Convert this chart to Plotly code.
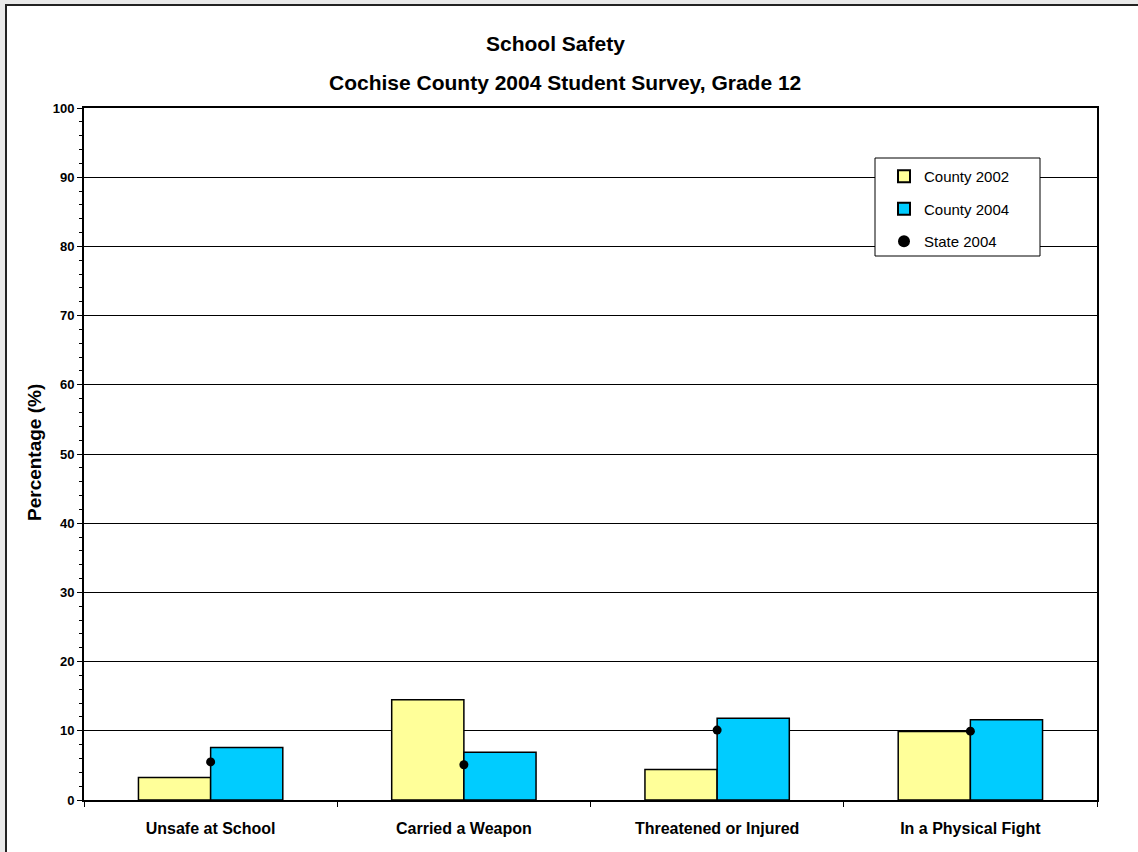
import plotly.graph_objects as go

categories = ["Unsafe at School", "Carried a Weapon", "Threatened or Injured", "In a Physical Fight"]
county_2002 = [3.25, 14.5, 4.4, 9.9]
county_2004 = [7.6, 6.9, 11.8, 11.6]
state_2004 = [5.5, 5.1, 10.1, 9.95]
y_ticks = [0, 10, 20, 30, 40, 50, 60, 70, 80, 90, 100]

W, H = 1138, 852
ML, MR, MT, MB = 84, 41, 108, 52
PW, PH = W - ML - MR, H - MT - MB

def px_x(px):
    return (px - ML) / PW

def px_y(py):
    return (H - MB - py) / PH

FONT = "Arial, Liberation Sans, sans-serif"

fig = go.Figure()
fig.add_trace(go.Bar(
    x=categories, y=county_2002, name="County 2002",
    marker=dict(color="#FFFF99", line=dict(color="black", width=1.5)),
    legendgroup="a",
))
fig.add_trace(go.Bar(
    x=categories, y=county_2004, name="County 2004",
    marker=dict(color="#00CCFF", line=dict(color="black", width=1.5)),
    legendgroup="b",
))
fig.add_trace(go.Scatter(
    x=categories, y=state_2004, name="State 2004", mode="markers",
    marker=dict(color="black", size=9),
    legendgroup="c",
))

fig.update_layout(
    width=W, height=H,
    margin=dict(l=ML, r=MR, t=MT, b=MB, pad=0),
    paper_bgcolor="#E9E9E9",
    plot_bgcolor="white",
    font=dict(family=FONT, color="black"),
    barmode="group", bargap=0.43, bargroupgap=0,
    showlegend=True,
    legend=dict(
        x=px_x(884), y=px_y(160), xanchor="left", yanchor="top",
        bgcolor="rgba(0,0,0,0)", borderwidth=0,
        font=dict(size=15, family=FONT),
        traceorder="grouped", tracegroupgap=10,
        itemsizing="constant",
    ),
    shapes=[
        dict(type="rect", xref="paper", yref="paper", layer="below",
             x0=px_x(6), x1=px_x(1160), y0=px_y(880), y1=px_y(5),
             fillcolor="white", line=dict(color="#222222", width=2)),
        dict(type="rect", xref="paper", yref="paper", layer="above",
             x0=px_x(875), x1=px_x(1040), y0=px_y(256), y1=px_y(158),
             fillcolor="white", line=dict(color="black", width=1)),
    ],
    annotations=[
        dict(text="<b>School Safety</b>", xref="paper", yref="paper",
             x=px_x(555), y=px_y(43), showarrow=False,
             xanchor="center", yanchor="middle", font=dict(size=21)),
        dict(text="<b>Cochise County 2004 Student Survey, Grade 12</b>", xref="paper", yref="paper",
             x=px_x(565), y=px_y(82), showarrow=False,
             xanchor="center", yanchor="middle", font=dict(size=21)),
        dict(text="<b>Percentage (%)</b>", xref="paper", yref="paper",
             x=px_x(34), y=px_y(453), showarrow=False, textangle=-90,
             xanchor="center", yanchor="middle", font=dict(size=19)),
    ],
)

fig.update_yaxes(
    range=[0, 100], tickvals=y_ticks, ticktext=[f"<b>{v}</b>" for v in y_ticks],
    showgrid=True, gridcolor="black", gridwidth=1,
    showline=True, linecolor="black", linewidth=2, mirror=True,
    ticks="outside", ticklen=5, tickwidth=1, tickcolor="black",
    tickfont=dict(size=13),
    minor=dict(dtick=2, ticks="outside", ticklen=3, tickcolor="black", showgrid=False),
    zeroline=False, fixedrange=True,
)
fig.update_xaxes(
    type="category", tickson="boundaries",
    ticktext=[f"<b>{c}</b>" for c in categories], tickvals=categories,
    showline=True, linecolor="black", linewidth=2, mirror=True,
    ticks="outside", ticklen=5, tickcolor="black",
    tickfont=dict(size=16), showgrid=False, ticklabelstandoff=13,
    fixedrange=True,
)

fig.write_html(
    "out.html",
    config={"displayModeBar": False},
    post_script="document.body.style.margin='0px';document.body.style.overflow='hidden';",
)
